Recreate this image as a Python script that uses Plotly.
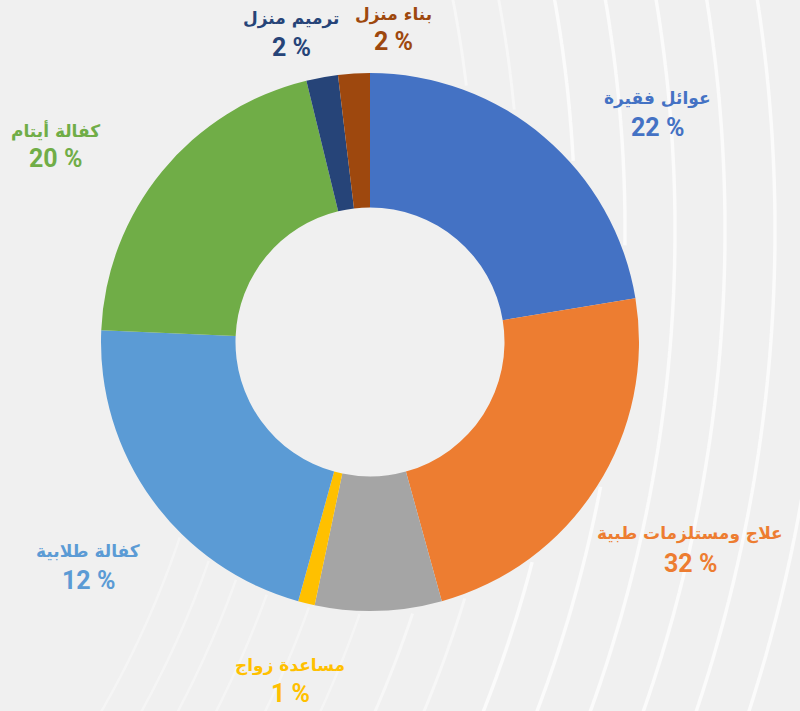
import numpy as np
import plotly.graph_objects as go

# ---- data ----
categories = ["عوائل فقيرة", "علاج ومستلزمات طبية", "أخرى", "مساعدة زواج",
              "كفالة طلابية", "كفالة أيتام", "ترميم منزل", "بناء منزل"]
slice_values = [22.4, 23.3, 7.6, 1.0, 21.4, 20.5, 1.9, 1.9]
label_percents = ["22", "32", None, "1", "12", "20", "2", "2"]
colors = ["#4472C4", "#ED7D31", "#A5A5A5", "#FFC000",
          "#5B9BD5", "#70AD47", "#264478", "#9E480E"]

W, H = 800, 711
# label centre positions in pixels (x, name line y, percent line y)
label_pos = [(657, 98, 127), (690, 533, 563), None, (290, 665, 693),
             (88, 551, 580), (55, 130, 159), (291, 18, 47), (393, 15, 42)]

cx, cy, R = 370, 342, 269

fig = go.Figure()
fig.add_trace(go.Pie(
    labels=categories, values=slice_values, sort=False,
    direction="clockwise", rotation=0, hole=0.5,
    marker=dict(colors=colors, line=dict(width=0)),
    textinfo="none", hoverinfo="label+value", showlegend=False,
    domain=dict(x=[(cx - R) / W, (cx + R) / W],
                y=[(H - cy - R) / H, (H - cy + R) / H]),
))

# decorative background arcs (concentric circles centred off-canvas left)
acx, acy = -735, 230
shapes = []
def arc_path(r, ymin, ymax):
    ys = np.linspace(ymin, ymax, 240)
    pts = []
    segs = []
    for y in ys:
        dy = y - acy
        if abs(dy) >= r:
            continue
        x = acx + np.sqrt(r * r - dy * dy)
        if (x - cx) ** 2 + (y - cy) ** 2 < (R + 3) ** 2 or x > W + 5:
            if len(pts) > 1:
                segs.append(pts)
            pts = []
            continue
        pts.append((x / W, 1 - y / H))
    if len(pts) > 1:
        segs.append(pts)
    paths = []
    for s in segs:
        paths.append("M " + " L ".join(f"{px:.4f},{py:.4f}" for px, py in s))
    return paths

for r in [1310, 1360, 1410, 1460, 1510, 1560]:
    for p in arc_path(r, -5, 716):
        shapes.append(dict(type="path", path=p, xref="paper", yref="paper",
                           line=dict(color="rgba(255,255,255,0.7)", width=3.5),
                           layer="below"))
for r in [1210, 1255]:
    for p in arc_path(r, -5, 716):
        shapes.append(dict(type="path", path=p, xref="paper", yref="paper",
                           line=dict(color="rgba(255,255,255,0.45)", width=3),
                           layer="below"))
for r in [965, 1000, 1032, 1066, 1110, 1160]:
    for p in arc_path(r, 480, 716):
        shapes.append(dict(type="path", path=p, xref="paper", yref="paper",
                           line=dict(color="rgba(255,255,255,0.35)", width=2.5),
                           layer="below"))

annotations = []
for name, pct, col, pos in zip(categories, label_percents, colors, label_pos):
    if pos is None:
        continue
    x, yn, yp = pos
    annotations.append(dict(x=x / W, y=1 - yn / H, xref="paper", yref="paper",
                            text=name, showarrow=False, xanchor="center", yanchor="middle",
                            font=dict(family="DejaVu Sans", size=17, color=col, weight="bold")))
    annotations.append(dict(x=x / W, y=1 - yp / H, xref="paper", yref="paper",
                            text=f"<b>{pct} %</b>", showarrow=False, xanchor="center",
                            yanchor="middle",
                            font=dict(family="Roboto", size=25, color=col)))

fig.update_layout(
    width=W, height=H, margin=dict(l=0, r=0, t=0, b=0),
    paper_bgcolor="#f0f0f0", plot_bgcolor="#f0f0f0",
    shapes=shapes, annotations=annotations,
)
fig.write_html("out.html", config={"displayModeBar": False},
               post_script="document.body.style.margin='0';document.body.style.overflow='hidden';")
